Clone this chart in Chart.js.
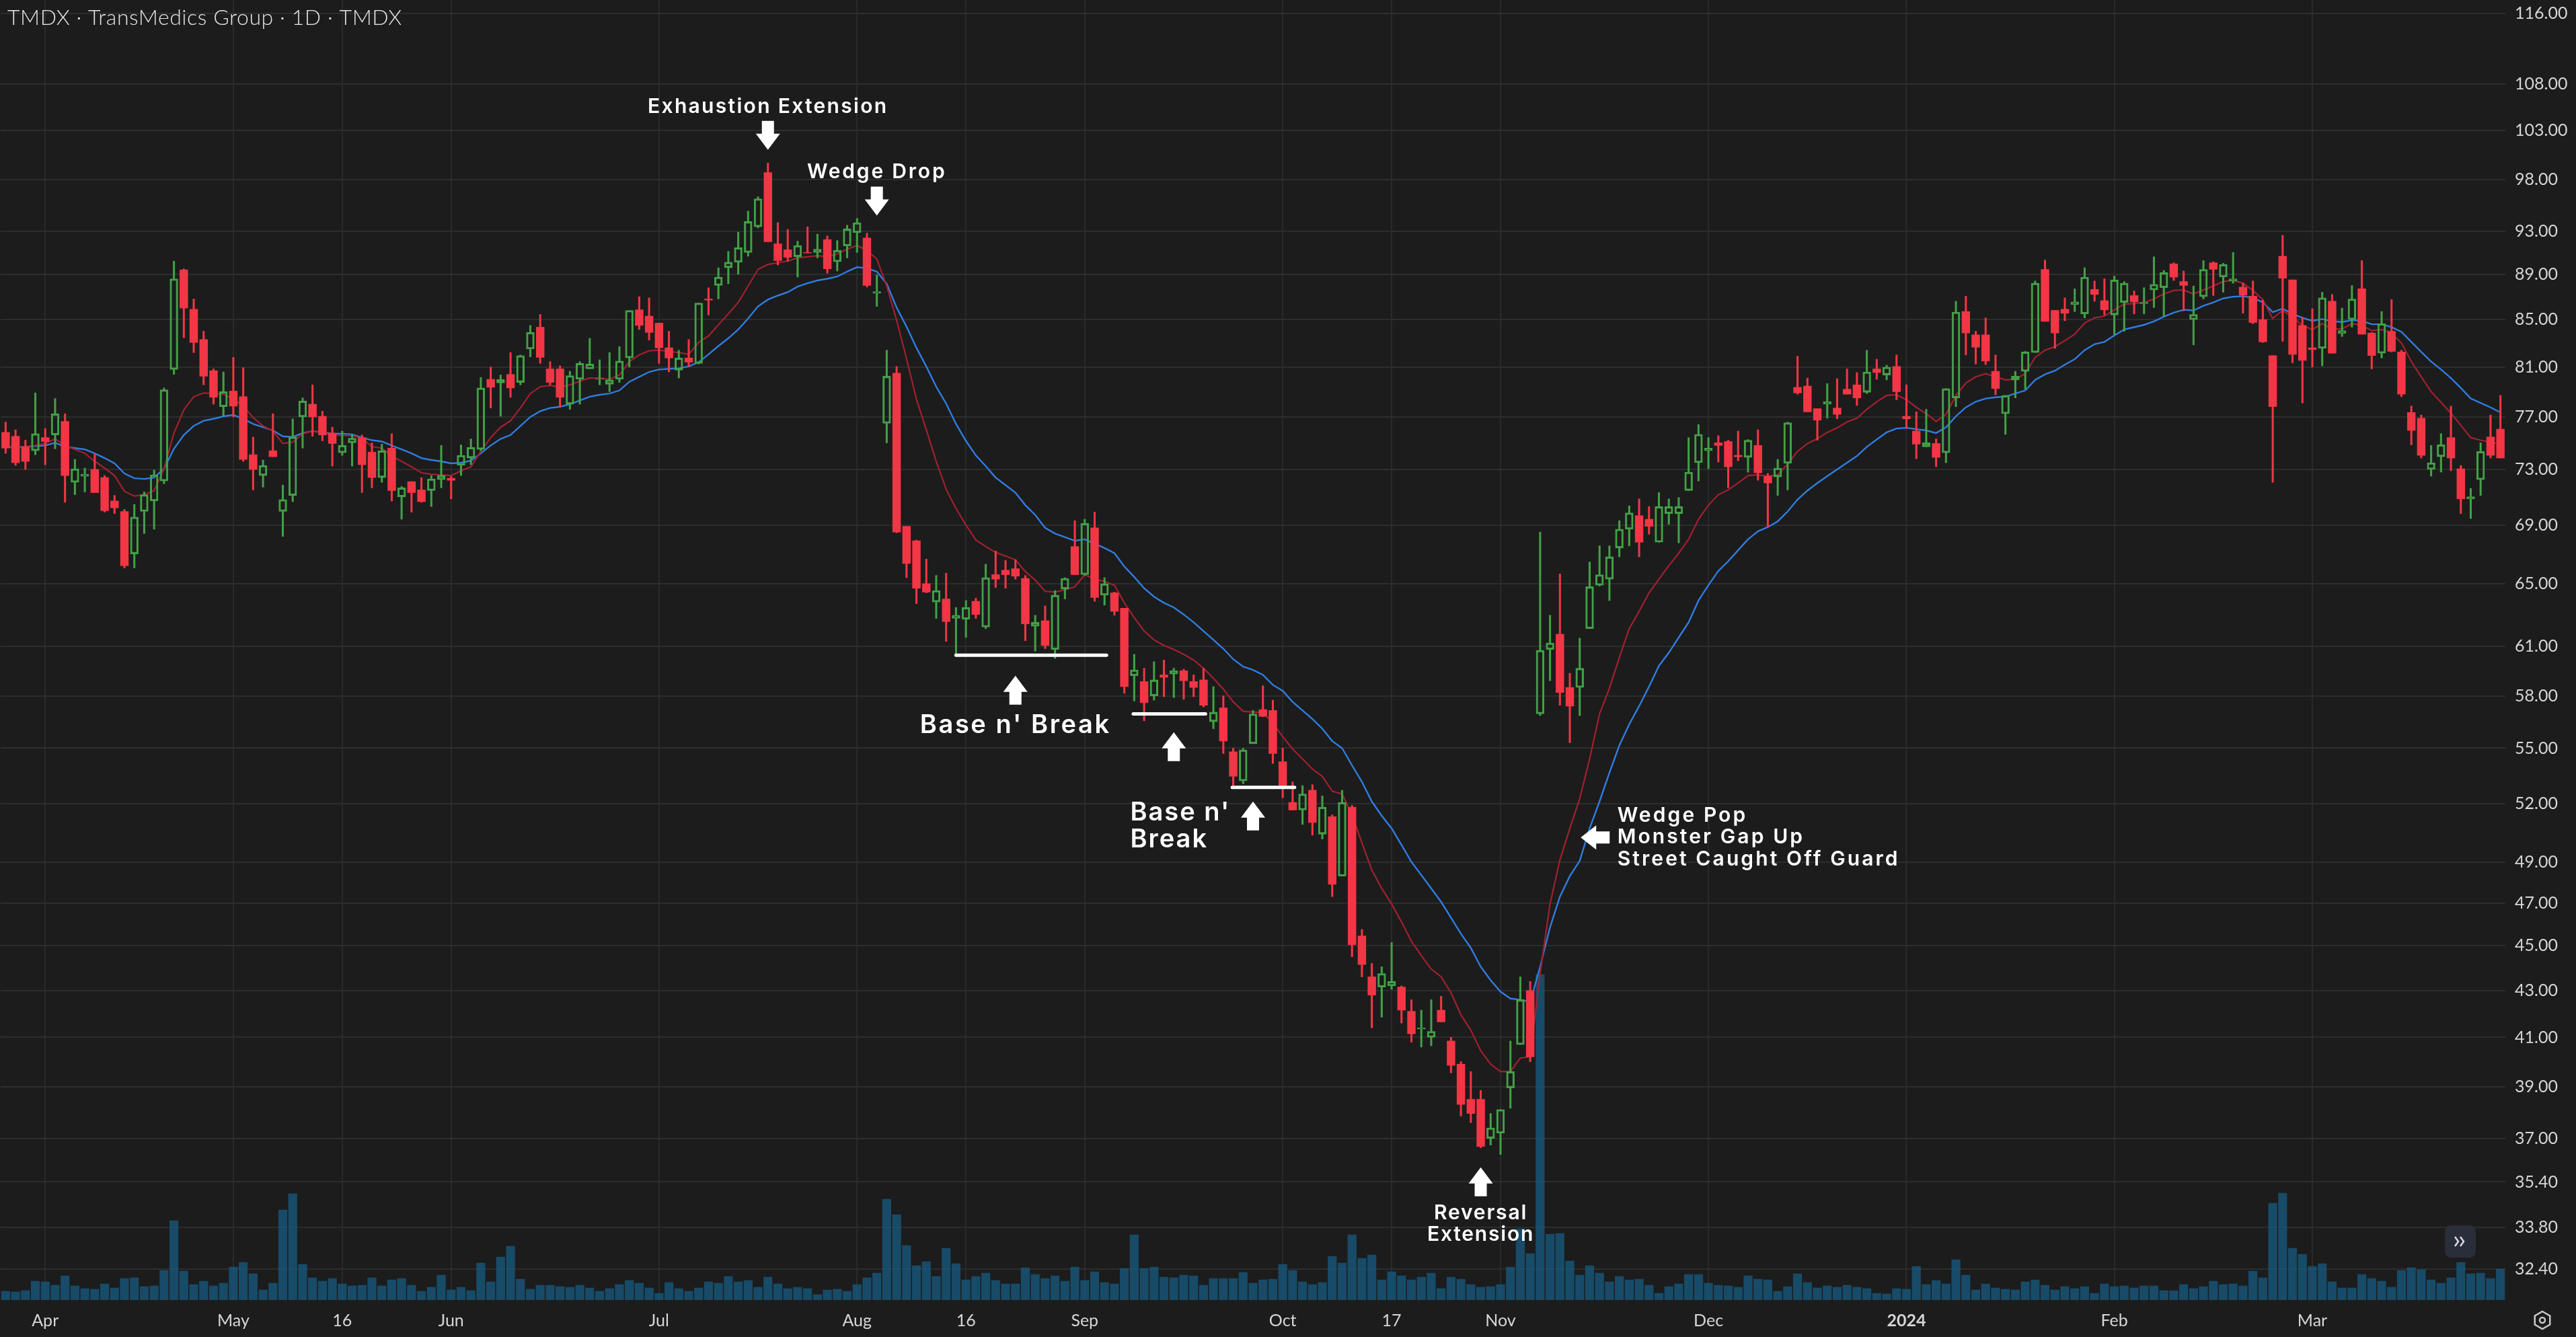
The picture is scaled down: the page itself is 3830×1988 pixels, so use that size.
<!DOCTYPE html>
<html>
<head>
<meta charset="utf-8">
<title>TMDX</title>
<script src="https://cdn.jsdelivr.net/npm/chart.js@4/dist/chart.umd.min.js"></script>
<style>
  html, body { margin: 0; padding: 0; background: #1c1c1c; overflow: hidden; }
  canvas { display: block; }
</style>
</head>
<body>
<canvas id="grafico" width="3830" height="1988"></canvas>
<script>
// === Datos ===
const opens = [
  75.8,75.5,74.7,74.4,75.4,75.6,76.65,72.05,72.5,73,
  72.4,70.7,69.95,67,69.95,70.7,72.15,80.8,89.4,85.9,
  83.3,80.7,77.8,79.05,78.6,74.1,72.55,74.4,69.95,71.1,
  77,78,77.05,75.75,74.25,75,75.4,74.3,72.4,74.6,
  71,72.1,71.5,71.45,72.25,72.35,73.3,73.85,74.5,80,
  79.7,80.4,79.75,82.5,84.35,80.85,80.85,78,80,80.85,
  80,79.6,80,81.75,85.85,85.3,84.7,82.6,80.75,81.75,
  81.3,86.8,88,89.6,90.1,91,93.4,98.7,91.8,91.25,
  90.6,91,91,92.2,90.15,91.6,92.85,92.35,87.3,76.5,
  80.5,68.9,67.9,65,63.8,64,62.75,62.7,63.85,62.2,
  65.6,65.9,66,65.35,62.25,62.6,60.8,64.65,67.5,65.6,
  68.8,64.25,64.4,63.4,59.2,58.85,58,59.25,59.3,59.5,
  58.85,58.95,56.5,57.3,54.8,53.2,55.25,57.2,57.15,54.25,
  52.05,51.65,52.7,50.4,51.3,48.3,51.8,45.45,43.6,43.15,
  43.2,43.15,42.1,41.35,41,42.15,40.85,39.9,38.5,38.5,
  37,37.2,38.95,40.7,43,56.95,60.8,61.75,58.5,58.5,
  62.1,64.9,65.3,67.4,68.7,69.65,69.4,67.8,69.8,69.8,
  71.45,73.5,74.4,75,75.1,74.05,73.9,74.8,72.5,72.45,
  73.45,79.35,79.45,77.65,78,77.7,79.2,79.55,78.95,80.85,
  80.35,81.05,77.05,75.9,74.7,74.95,74.25,78.5,85.7,83.7,
  83.7,80.65,77.25,79.95,80.65,82.2,89.45,85.8,85.9,86.3,
  85.5,87.65,86.65,85.4,86.5,87.1,86.4,87.6,87.8,89.95,
  88.35,85,87,90.05,88.75,88.4,87.85,87.05,85,81.95,
  90.65,88.5,84.5,82.6,82.55,86.6,83.8,85,87.7,83.85,
  82.15,84,82.25,77.35,76.9,73,73.95,75.4,73.05,70.85,
  72.25,75.45,76.05
];
const closes = [
  74.6,73.5,73.6,75.7,75.1,77.25,72.55,73.05,72.65,71.3,
  70,70.2,66.2,69.55,71.15,72.6,79.15,88.6,86,83.05,
  80.25,78.55,79,77.85,73.75,73,73.3,73.95,70.8,75.45,
  78.25,77,75.6,74.95,74.8,75.35,73.35,72.4,74.4,71.45,
  71.65,71.3,70.65,72.3,72.55,72.2,74.05,74.65,79.3,79.35,
  80,79.3,81.95,83.9,81.8,79.75,78.55,80.3,81.3,81.25,
  80.05,79.95,81.5,85.8,84.5,83.9,82.6,81.75,81.75,81.4,
  86.45,86.7,88.75,90.1,91.45,93.9,96.1,92,90.25,90.55,
  91.65,90.95,91.3,89.5,91.2,93.2,93.8,88,87.45,80.25,
  68.5,66.35,64.7,64.45,64.55,62.55,62.95,63.45,63,65.4,
  65.3,65.6,65.5,62.4,62.5,61.05,64.25,65.35,65.6,69.1,
  64.1,65,63.2,58.55,59.55,57.6,58.95,59.1,59.5,58.9,
  58.5,57.45,57.05,55.4,53.45,54.9,56.95,56.8,54.7,52.9,
  51.65,52.5,51,51.8,47.9,52.05,45.05,44.15,42.8,43.75,
  43.4,42.15,41.15,41.4,41.25,41.65,39.85,38.3,37.95,36.7,
  37.4,38.1,39.6,42.6,40.2,60.75,61.2,58.2,57.4,59.65,
  64.8,65.6,66.8,68.7,69.85,67.8,68.9,70.3,70.3,70.3,
  72.8,75.65,74.6,74.8,73.2,73.95,75.2,72.75,72,73.1,
  76.55,78.9,77.4,76.75,78.2,77.2,78.8,78.5,80.6,80.55,
  81,79,76.85,74.9,75,73.9,79.25,85.65,83.85,82.65,
  81.5,79.25,78.7,80.25,82.25,88.2,84.85,83.85,85.55,86.55,
  88.75,87.2,85.85,88.5,88.2,86.55,86.5,88.1,89.15,88.75,
  88,85.45,89.45,89.45,89.9,88.6,87.15,84.75,83.1,77.8,
  88.65,82.05,81.55,82.45,86.9,82.15,84.05,86.8,83.75,81.95,
  84.65,82.3,78.8,75.95,74.05,73.5,74.85,73.85,70.85,71,
  74.35,74.05,73.85
];
const highs = [
  76.6,76,75.2,78.9,76.1,78.45,77.25,73.75,73.1,74.2,
  72.55,71.1,70.1,70.45,71.35,72.95,79.3,90.2,89.5,86.8,
  84,80.85,80.6,81.8,80.95,75.45,73.7,77.25,71.85,76.85,
  78.5,79.55,77.45,76.2,75.9,75.65,75.6,75,74.9,75.7,
  71.75,72.1,72.4,72.55,74.8,72.5,74.85,75.3,80.15,81,
  80.35,82.2,82,84.5,85.45,81.45,81.1,80.65,81.45,83.4,
  81.6,82.2,82.7,85.8,87,86.9,84.7,84,82.4,83.3,
  86.45,87.8,89.6,91.1,92.9,94.9,96.3,99.65,93.8,93.15,
  92.05,93.4,92.7,92.55,92.1,93.55,94.2,92.8,88.95,82.4,
  81.05,68.9,67.95,66.65,65.55,65.7,63.45,63.9,64.05,66.3,
  67.2,66.55,66.6,65.55,62.95,63.55,64.55,65.4,69.3,69.4,
  69.9,65.4,64.45,63.4,60.5,59.65,60.05,60.15,59.65,59.6,
  59.25,59.65,58.55,58,55,55,57.15,58.6,57.75,55,
  53.15,52.95,53,52.4,51.4,52.7,51.9,45.75,44.2,44.05,
  45.15,43.2,42.6,42.15,42.6,42.75,41,40,39.6,38.85,
  37.95,38.1,40.85,43.6,43.4,68.5,62.95,65.65,59.35,61.5,
  66.45,67.55,67.55,69.3,70.35,70.85,70.3,71.3,70.85,70.95,
  75.4,76.4,75.4,75.55,75.2,75.9,75.25,76,72.7,73.75,
  76.6,81.9,80.1,77.65,79.65,80.05,80.85,80.55,82.4,81.65,
  81.15,82,79.55,77.4,77.6,75.3,79.25,86.6,87.05,84,
  85.15,82,78.7,80.65,82.3,88.4,90.3,85.8,86.9,87.7,
  89.6,88.4,88.6,88.85,88.35,87.5,87.8,90.6,89.35,90.05,
  89.3,87.95,90.25,90.15,90,91,88.2,88.4,86.7,81.95,
  92.6,88.5,85.2,85.95,87.4,87.2,86,88,90.25,83.9,
  85.7,86.75,82.4,77.85,77.15,74.8,75.7,77.85,73.3,71.6,
  75,77.15,78.7
];
const lows = [
  74.2,73.3,73,74.1,73.35,74.55,70.6,71.15,71.35,71.3,
  69.9,69.8,66.05,66.05,68.4,68.7,71.95,80.4,83.45,82.2,
  79.55,78,77.05,77,73.6,71.5,71.7,73.95,68.2,70.65,
  74.6,75.5,75.15,73.25,74.05,73.25,71.3,71.65,72.05,70.7,
  69.4,69.9,70.6,70.3,71.65,70.85,72.55,73.35,74.4,77.7,
  77.05,78.55,79.55,81.85,81.3,79.55,77.75,77.6,78,80.85,
  79.55,79,79.75,81,84.15,83.25,81.3,80.6,80.1,81.05,
  81.25,85.4,86.8,88.15,89,90.65,93.3,92,89.85,90.2,
  88.75,90.95,90.5,89.1,89.3,90.5,91,87.85,86.15,75,
  68.45,65.4,63.7,64.4,62.75,61.3,60.5,61.55,62.75,62.1,
  64.75,64.7,65.3,61.35,60.7,60.85,60.25,64,65.6,65.55,
  63.85,63.6,62.95,58.15,57.7,56.55,57.75,57.95,57.9,57.8,
  57.95,57.35,56.1,54.7,52.95,53.05,55.25,56.8,54.15,52.3,
  51.65,50.9,50.35,50.15,47.3,48.3,44.5,43.6,41.4,41.85,
  43.05,41.6,40.8,40.6,40.65,41.65,39.55,37.85,37.6,36.65,
  36.75,36.4,38.15,40.7,40,56.85,58.9,57.45,55.3,56.85,
  62.1,64.85,63.9,66.8,67.55,66.8,68.35,67.8,69.05,67.75,
  71.45,72.15,73.05,73.55,71.65,73.65,72.8,72.2,68.85,71.1,
  71.5,78.8,77.4,75.2,76.9,76.85,78.8,77.9,78.85,80,
  79.95,78.35,76.1,73.8,74.7,73.2,73.5,77.8,82,81.25,
  81.2,78.75,75.65,78.5,79.2,82.2,84.85,82.55,84.9,85.7,
  85.15,86.6,85.4,83.7,84,85.5,85.5,86.05,85.3,88.45,
  85.75,82.85,86.8,87.1,87.4,88.2,85.55,84.65,83.05,72.05,
  83.15,81.35,78.1,81,81.1,82.15,83.55,84.35,83.75,80.85,
  81.75,82.25,78.6,74.85,73.85,72.5,72.8,72.9,69.8,69.45,
  71.1,73.85,73.85
];
const volumes = [
  39,36,42,84,81,66,108,63,51,48,
  72,54,96,99,60,63,132,354,129,69,
  84,63,75,147,168,117,45,75,402,474,
  159,99,84,96,72,63,66,99,63,90,
  96,66,39,57,111,45,57,42,165,81,
  192,240,93,48,66,66,60,57,66,54,
  39,51,69,87,75,54,30,78,51,39,
  54,81,75,105,81,87,57,102,72,51,
  57,51,24,45,48,39,69,99,120,450,
  381,243,153,171,105,231,162,90,105,120,
  87,72,72,144,114,96,108,84,147,87,
  126,78,72,141,291,141,147,102,99,111,
  108,66,96,96,96,123,75,90,93,159,
  132,81,69,78,195,165,291,186,201,90,
  126,108,90,102,120,51,102,93,69,57,
  60,69,147,318,207,1452,294,297,174,111,
  153,120,81,105,90,93,66,30,60,72,
  114,114,75,66,63,57,108,93,90,39,
  60,117,78,54,63,57,66,57,51,30,
  27,51,48,150,69,87,72,180,111,45,
  72,54,48,45,81,90,66,45,60,51,
  60,30,72,60,63,54,63,63,42,42,
  69,51,60,84,69,72,63,129,99,432,
  477,231,204,150,162,81,54,54,114,96,
  84,57,132,144,135,90,75,99,168,117,
  120,96,138
];
const fastLine = [
  74.75,74.65,74.7,74.8,74.95,75.3,74.8,74.5,74.2,73.6,
  73.1,72.55,71.4,71.05,71.15,71.45,73.05,75.75,77.55,78.6,
  78.9,78.85,78.8,78.4,77.85,76.95,76.3,75.9,74.95,75.05,
  75.7,75.9,75.8,75.6,75.55,75.55,75.35,74.7,74.6,74,
  73.6,73.2,72.75,72.65,72.6,72.55,72.9,73.2,74.35,75.4,
  76.2,76.7,77.7,78.85,79.4,79.5,79.35,79.55,79.85,80.1,
  80.1,80,80.35,81.45,82,82.35,82.4,82.3,82.2,82.05,
  83.05,83.6,84.55,85.5,86.5,87.95,89.45,89.9,90.05,90.2,
  90.5,90.6,90.7,90.6,90.85,91.3,91.65,91.2,90.4,87.95,
  84.95,81.7,78.4,76,73.6,71.55,70.15,69,67.95,67.5,
  67.1,66.85,66.6,65.8,65.25,64.5,64.45,64.6,64.8,65.6,
  65.3,65.15,64.9,63.75,62.8,61.95,61.4,61.05,60.8,60.5,
  60.15,59.65,59.05,58.4,57.65,57.1,57.05,57.05,56.4,55.65,
  54.95,54.4,53.85,53.45,52.65,52.5,51.4,49.95,48.6,47.7,
  46.95,46.1,45.2,44.55,43.95,43.6,42.9,41.95,41.3,40.45,
  39.9,39.6,39.6,40.15,40.2,43.75,46.95,49.1,50.7,52.25,
  54.4,56.95,58.45,60.3,62.1,63.2,64.4,65.3,66.2,67.05,
  68,69.4,70.4,71.15,71.5,72,72.55,72.6,72.5,72.6,
  73.4,74.35,74.95,75.3,75.8,76.15,76.6,76.9,77.6,78.2,
  78.7,78.75,78.35,77.75,77.25,76.65,77.2,78.7,79.7,80.2,
  80.45,80.2,79.95,80,80.45,81.8,82.4,82.7,83.2,83.75,
  84.7,85.15,85.3,85.85,86.35,86.4,86.5,86.8,87.25,87.55,
  87.6,87.25,87.6,87.95,88.35,88.45,88.2,87.55,86.75,85.1,
  85.8,85.2,84.5,84.15,84.65,84.2,84.2,84.65,84.5,84.05,
  84.15,83.85,83,81.45,80.2,79,78.15,77.3,76.35,75.4,
  75.2,75.05,74.9
];
const slowLine = [
  74.7,74.65,74.7,74.75,74.8,75,74.7,74.6,74.5,74.2,
  73.85,73.45,72.7,72.35,72.3,72.4,73.05,74.55,75.6,76.3,
  76.7,76.85,77.05,77.15,76.85,76.45,76.2,75.95,75.5,75.45,
  75.75,75.9,75.8,75.7,75.7,75.65,75.4,75.2,75.1,74.8,
  74.5,74.2,73.85,73.7,73.6,73.45,73.5,73.65,74.2,74.8,
  75.3,75.6,76.3,77,77.45,77.7,77.8,78,78.3,78.6,
  78.75,78.85,79.1,79.8,80.2,80.6,80.8,80.85,80.9,81.05,
  81.4,82.05,82.75,83.4,84.15,85.1,86.15,86.75,87.1,87.4,
  87.9,88.2,88.45,88.6,88.8,89.25,89.65,89.55,89.25,88.15,
  86.05,84.4,82.6,81.05,79.4,78.05,76.45,75.15,74.05,73.25,
  72.4,71.85,71.3,70.4,69.7,68.8,68.4,68.15,67.9,68,
  67.7,67.4,67.05,66.15,65.45,64.7,64.15,63.75,63.45,63,
  62.5,61.95,61.4,60.85,60.2,59.75,59.55,59.25,58.65,58.3,
  57.65,57.15,56.65,56.1,55.4,55,54.05,53.15,52.1,51.35,
  50.7,49.85,49,48.35,47.7,47.05,46.3,45.55,44.9,44.05,
  43.45,42.95,42.65,42.6,42.5,44.05,45.85,47.3,48.3,49.05,
  50.7,52.1,53.65,55.15,56.35,57.4,58.55,59.8,60.6,61.55,
  62.5,63.9,64.9,65.85,66.5,67.25,68,68.55,68.85,69.25,
  69.95,70.8,71.45,72,72.5,73,73.5,74,74.7,75.25,
  75.8,76.1,76.15,76.05,75.95,75.75,76.2,77.05,77.75,78.2,
  78.45,78.55,78.6,78.85,79.1,79.95,80.4,80.7,81.2,81.65,
  82.4,82.9,83.1,83.65,84.15,84.35,84.55,84.85,85.25,85.6,
  85.85,85.8,86.2,86.5,86.85,87,87.05,86.9,86.5,85.65,
  85.95,85.5,85.15,84.9,85.05,84.85,84.8,84.95,84.9,84.6,
  84.6,84.35,83.95,83.1,82.25,81.45,80.8,80.1,79.3,78.45,
  78.1,77.75,77.35
];
const categories = closes.map((_, i) => i);
const xTickIndex = [4, 23, 34, 45, 66, 86, 97, 109, 129, 140, 151, 172, 192, 213, 233];
const xTickLabels = ["Apr", "May", "16", "Jun", "Jul", "Aug", "16", "Sep", "Oct", "17", "Nov", "Dec", "2024", "Feb", "Mar"];
const yTicks = [116, 108, 103, 98, 93, 89, 85, 81, 77, 73, 69, 65, 61, 58, 55, 52, 49, 47, 45, 43, 41, 39, 37, 35.4, 33.8, 32.4];

// === Anotaciones (indice de vela y precio) ===
const notas = [
  { lineas: ["Exhaustion Extension"], i: 77, precios: [105.5], size: 30, espacio: 2.3 },
  { lineas: ["Wedge Drop"], i: 88, precios: [98.76], size: 30, espacio: 2.8 },
  { lineas: ["Base n' Break"], i: 102, precios: [56.27], size: 38, espacio: 2.6 },
  { lineas: ["Base n'", "Break"], i: 113.6, precios: [51.5, 50.1], size: 38, espacio: 2, izq: true },
  { lineas: ["Reversal", "Extension"], i: 149, precios: [34.3, 33.56], size: 30, espacio: 1.8 },
  { lineas: ["Wedge Pop", "Monster Gap Up", "Street Caught Off Guard"], i: 162.8, precios: [51.34, 50.23, 49.13], size: 30, espacio: 3.1, izq: true }
];
const flechas = [
  { dir: "abajo", i: 77, precio: 101 },
  { dir: "abajo", i: 88, precio: 94.47 },
  { dir: "arriba", i: 102, precio: 59.2 },
  { dir: "arriba", i: 118, precio: 55.9 },
  { dir: "arriba", i: 126, precio: 52.1 },
  { dir: "arriba", i: 149, precio: 35.93 },
  { dir: "izq", i: 159.1, precio: 50.23 }
];
const soportes = [
  { desde: 96, hasta: 111.2, precio: 60.45 },
  { desde: 113.9, hasta: 121.2, precio: 56.95 },
  { desde: 123.9, hasta: 130.2, precio: 52.85 }
];

const fuente = "Lato";
const fuenteNotas = "Inter";
const rojo = "#f23645";
const verde = "#43a047";

// === Dibujo de anotaciones y controles ===
const pluginNotas = {
  id: "notas",
  afterDatasetsDraw(chart) {
    const { ctx, scales } = chart;
    const px = i => scales.x.left + (i + 0.5) * (scales.x.width / categories.length);
    const py = p => scales.y.getPixelForValue(p);
    ctx.save();

    // titulo
    ctx.fillStyle = "#e4e4e4";
    ctx.font = `300 32px ${fuente}`;
    ctx.letterSpacing = "0.58px";
    ctx.textAlign = "left";
    ctx.textBaseline = "middle";
    ctx.fillText("TMDX · TransMedics Group · 1D · TMDX", 11, 27);

    // lineas de soporte
    ctx.strokeStyle = "#ffffff";
    ctx.lineWidth = 5;
    ctx.lineCap = "round";
    soportes.forEach(s => {
      ctx.beginPath();
      ctx.moveTo(px(s.desde), py(s.precio));
      ctx.lineTo(px(s.hasta), py(s.precio));
      ctx.stroke();
    });

    // flechas
    ctx.fillStyle = "#ffffff";
    flechas.forEach(f => {
      const x = px(f.i), y = py(f.precio);
      ctx.beginPath();
      if (f.dir === "abajo") {
        ctx.moveTo(x, y); ctx.lineTo(x + 18, y - 24); ctx.lineTo(x + 9, y - 24); ctx.lineTo(x + 9, y - 43);
        ctx.lineTo(x - 9, y - 43); ctx.lineTo(x - 9, y - 24); ctx.lineTo(x - 18, y - 24);
      } else if (f.dir === "arriba") {
        ctx.moveTo(x, y); ctx.lineTo(x + 18, y + 24); ctx.lineTo(x + 9, y + 24); ctx.lineTo(x + 9, y + 43);
        ctx.lineTo(x - 9, y + 43); ctx.lineTo(x - 9, y + 24); ctx.lineTo(x - 18, y + 24);
      } else {
        ctx.moveTo(x, y); ctx.lineTo(x + 23, y - 18); ctx.lineTo(x + 23, y - 9); ctx.lineTo(x + 43, y - 9);
        ctx.lineTo(x + 43, y + 9); ctx.lineTo(x + 23, y + 9); ctx.lineTo(x + 23, y + 18);
      }
      ctx.closePath();
      ctx.fill();
    });

    // textos
    notas.forEach(n => {
      ctx.font = `600 ${n.size}px ${fuenteNotas}`;
      ctx.letterSpacing = n.espacio + "px";
      ctx.textAlign = n.izq ? "left" : "center";
      n.lineas.forEach((t, k) => ctx.fillText(t, px(n.i), py(n.precios[k])));
    });

    // boton >> y engranaje
    ctx.letterSpacing = "0px";
    ctx.fillStyle = "#2a2d3a";
    ctx.beginPath();
    ctx.roundRect(3635, 1822, 46, 48, 9);
    ctx.fill();
    ctx.strokeStyle = "#d8dbe6";
    ctx.lineWidth = 2.5;
    ctx.lineCap = "butt";
    [3650, 3658].forEach(x => {
      ctx.beginPath();
      ctx.moveTo(x, 1839); ctx.lineTo(x + 5, 1846); ctx.lineTo(x, 1853);
      ctx.stroke();
    });
    ctx.strokeStyle = "#c8c8c8";
    ctx.lineWidth = 2.5;
    ctx.beginPath();
    for (let k = 0; k < 6; k++) {
      const a = Math.PI / 3 * k - Math.PI / 2;
      const x = 3780 + 13 * Math.cos(a), y = 1963 + 13 * Math.sin(a);
      k === 0 ? ctx.moveTo(x, y) : ctx.lineTo(x, y);
    }
    ctx.closePath();
    ctx.stroke();
    ctx.beginPath();
    ctx.arc(3780, 1963, 4, 0, Math.PI * 2);
    ctx.stroke();
    ctx.restore();
  }
};

// === Grafico ===
const colorVela = closes.map((c, i) => (c >= opens[i] ? verde : rojo));

new Chart(document.getElementById("grafico").getContext("2d"), {
  data: {
    labels: categories,
    datasets: [
      {
        type: "bar", label: "Volumen", yAxisID: "yVol", order: 4, grouped: false,
        data: volumes, backgroundColor: "rgba(22,88,125,0.78)", barThickness: 12.6, borderWidth: 0
      },
      {
        type: "line", label: "Media lenta", order: 3, data: slowLine,
        borderColor: "#2f7de1", borderWidth: 2.4, pointRadius: 0, tension: 0
      },
      {
        type: "line", label: "Media rapida", order: 2, data: fastLine,
        borderColor: "#a3202f", borderWidth: 2.2, pointRadius: 0, tension: 0
      },
      {
        type: "bar", label: "Mecha sup", order: 1, grouped: false, barThickness: 2.4, borderWidth: 0,
        data: highs.map((h, i) => [Math.max(opens[i], closes[i]), h]), backgroundColor: colorVela
      },
      {
        type: "bar", label: "Mecha inf", order: 1, grouped: false, barThickness: 2.4, borderWidth: 0,
        data: lows.map((l, i) => [l, Math.min(opens[i], closes[i])]), backgroundColor: colorVela
      },
      {
        type: "bar", label: "Cuerpo", order: 0, grouped: false, barThickness: 11.8, borderSkipped: false,
        data: opens.map((o, i) => [o, closes[i]]),
        backgroundColor: closes.map((c, i) => (c >= opens[i] ? "rgba(0,0,0,0)" : rojo)),
        borderColor: colorVela,
        borderWidth: closes.map((c, i) => (c >= opens[i] ? 2.4 : 0))
      }
    ]
  },
  options: {
    responsive: false,
    animation: false,
    devicePixelRatio: 1,
    layout: { padding: { left: 1 } },
    plugins: { legend: { display: false }, tooltip: { enabled: false } },
    scales: {
      x: {
        type: "category",
        offset: true,
        grid: { offset: false, color: "#2a2a2a", lineWidth: 2, drawTicks: false },
        border: { display: false },
        afterBuildTicks: axis => { axis.ticks = axis.ticks.filter(t => xTickIndex.includes(t.value)); },
        afterFit: axis => { axis.height = 55; axis.paddingLeft = 0; axis.paddingRight = 0; },
        ticks: {
          autoSkip: false, maxRotation: 0, padding: 16, color: "#d6d6d6",
          font: ctx => ({ family: fuente, size: 25, weight: ctx.tick && ctx.tick.value === 192 ? "700" : "400" }),
          callback: v => xTickLabels[xTickIndex.indexOf(v)]
        }
      },
      y: {
        type: "logarithmic",
        position: "right",
        min: 31.4,
        max: 117.6,
        grid: { color: "#2d2d2d", lineWidth: 2, drawTicks: false },
        border: { display: false },
        afterBuildTicks: axis => { axis.ticks = yTicks.map(v => ({ value: v })); },
        afterFit: axis => { axis.width = 105; axis.paddingTop = 0; axis.paddingBottom = 0; },
        ticks: {
          padding: 14, color: "#d6d6d6", font: { family: fuente, size: 25 },
          callback: v => v.toFixed(2)
        }
      },
      yVol: { type: "linear", display: false, min: 0, max: 5799 }
    }
  },
  plugins: [
    { id: "fondo", beforeDraw(chart) { const c = chart.ctx; c.save(); c.fillStyle = "#1c1c1c"; c.fillRect(0, 0, chart.width, chart.height); c.restore(); } },
    pluginNotas
  ]
});
</script>
</body>
</html>
